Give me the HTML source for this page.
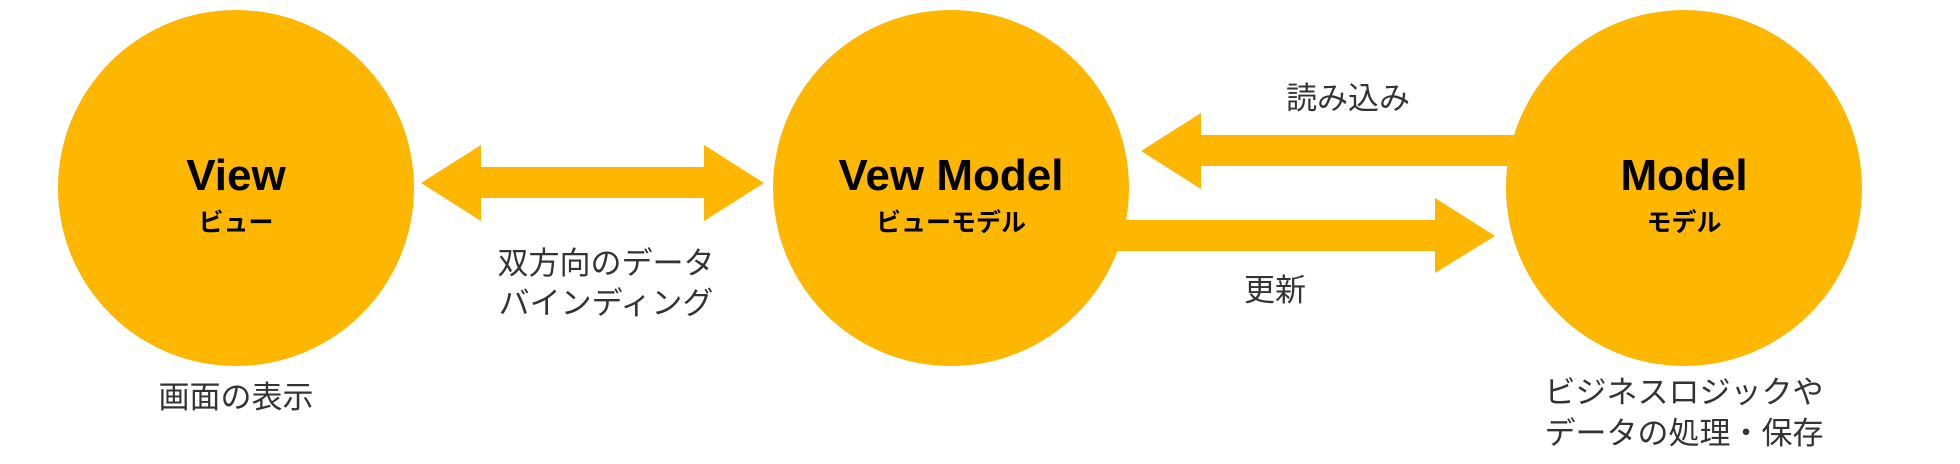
<!DOCTYPE html>
<html><head><meta charset="utf-8"><style>
body{margin:0;background:#fff;}
svg{display:block}
</style></head><body>
<svg width="1960" height="464" xmlns="http://www.w3.org/2000/svg">
<g fill="#FDB700">
<polygon points="421,183 481,145 481,167 704,167 704,145 764,183 704,221 704,198 481,198 481,221"/>
<polygon points="1141,151 1201,113 1201,135 1530,135 1530,166 1201,166 1201,189"/>
<polygon points="1110,220 1435,220 1435,198 1495,236 1435,273 1435,251 1110,251"/>
<circle cx="236" cy="188" r="178"/>
<circle cx="951" cy="188" r="178"/>
<circle cx="1684" cy="188" r="178"/>
</g>
<g font-family="Liberation Sans, Noto Sans CJK JP, sans-serif" text-anchor="middle">
<g font-weight="bold" fill="#000">
<text x="236" y="190" font-size="44">View</text>
<text x="951" y="190" font-size="44">Vew Model</text>
<text x="1684" y="190" font-size="44">Model</text>
<text x="236" y="231" font-size="25">ビュー</text>
<text x="951" y="231" font-size="25">ビューモデル</text>
<text x="1684" y="231" font-size="25">モデル</text>
</g>
<g fill="#333" font-size="31">
<text x="606" y="274">双方向のデータ</text>
<text x="606" y="314">バインディング</text>
<text x="236" y="408">画面の表示</text>
<text x="1348" y="109">読み込み</text>
<text x="1275" y="301">更新</text>
<text x="1684" y="403">ビジネスロジックや</text>
<text x="1684" y="444">データの処理・保存</text>
</g>
</g>
</svg>
</body></html>
